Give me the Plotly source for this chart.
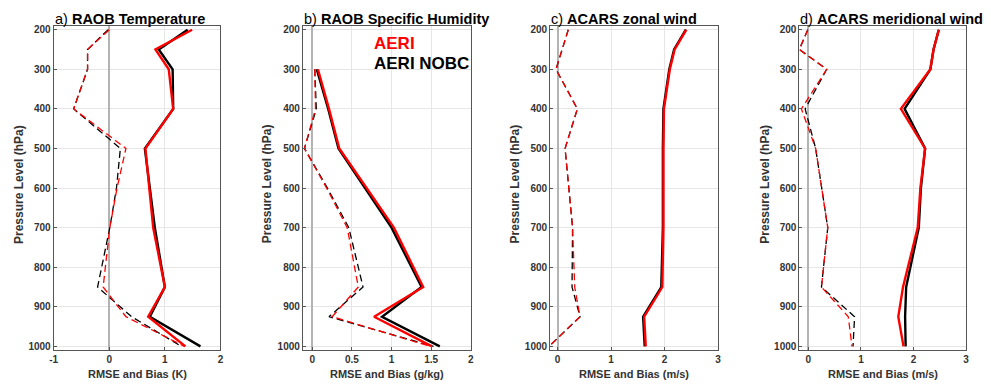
import plotly.graph_objects as go

levels = [200, 250, 300, 400, 500, 600, 700, 850, 925, 1000]

# a) RAOB Temperature (K)
temp_rmse_aeri = [1.49, 0.83, 1.07, 1.15, 0.65, 0.72, 0.79, 1.00, 0.70, 1.37]
temp_rmse_nobc = [1.41, 0.89, 1.14, 1.15, 0.64, 0.73, 0.82, 1.00, 0.73, 1.64]
temp_bias_aeri = [0.00, -0.39, -0.39, -0.64, 0.30, 0.14, 0.01, -0.11, 0.30, 1.35]
temp_bias_nobc = [-0.02, -0.39, -0.39, -0.64, 0.20, 0.13, 0.01, -0.21, 0.40, 1.30]

# b) RAOB Specific Humidity (g/kg)
q_rmse_aeri = [None, None, 0.07, 0.21, 0.34, 0.68, 1.03, 1.40, 0.78, 1.51]
q_rmse_nobc = [None, None, 0.055, 0.20, 0.33, 0.66, 1.00, 1.38, 0.88, 1.61]
q_bias_aeri = [None, None, 0.03, 0.04, -0.10, 0.18, 0.44, 0.58, 0.25, 1.49]
q_bias_nobc = [None, None, 0.03, 0.05, -0.10, 0.19, 0.46, 0.64, 0.21, 1.53]

# c) ACARS zonal wind (m/s)
u_rmse_aeri = [2.41, 2.19, 2.10, 1.99, 1.98, 1.98, 1.98, 1.96, 1.62, 1.65]
u_rmse_nobc = [2.40, 2.18, 2.09, 1.98, 1.97, 1.97, 1.97, 1.94, 1.60, 1.63]
u_bias_aeri = [0.20, 0.09, -0.03, 0.37, 0.14, 0.21, 0.28, 0.32, 0.42, -0.16]
u_bias_nobc = [0.20, 0.09, -0.03, 0.37, 0.14, 0.21, 0.28, 0.27, 0.42, -0.16]

# d) ACARS meridional wind (m/s)
v_rmse_aeri = [2.48, 2.38, 2.32, 1.76, 2.22, 2.13, 2.08, 1.80, 1.71, 1.81]
v_rmse_nobc = [2.48, 2.38, 2.32, 1.83, 2.22, 2.14, 2.10, 1.86, 1.84, 1.85]
v_bias_aeri = [-0.01, -0.17, 0.35, -0.13, 0.14, 0.25, 0.37, 0.25, 0.76, 0.83]
v_bias_nobc = [-0.01, -0.17, 0.35, -0.06, 0.14, 0.25, 0.37, 0.25, 0.88, 0.85]

titles = ["a) <b>RAOB Temperature</b>", "b) <b>RAOB Specific Humidity</b>",
          "c) <b>ACARS zonal wind</b>", "d) <b>ACARS meridional wind</b>"]
xtitles = ["RMSE and Bias (K)", "RMSE and Bias (g/kg)", "RMSE and Bias (m/s)", "RMSE and Bias (m/s)"]
xranges = [[-1, 2], [-0.12, 2], [-0.14, 3], [-0.17, 3]]
xticks = [[-1, 0, 1, 2], [0, 0.5, 1, 1.5, 2], [0, 1, 2, 3], [0, 1, 2, 3]]
xticktext = [["-1", "0", "1", "2"], ["0", "0.5", "1", "1.5", "2"], ["0", "1", "2", "3"], ["0", "1", "2", "3"]]
yticks = [200, 300, 400, 500, 600, 700, 800, 900, 1000]

panels = [
    (temp_rmse_nobc, temp_rmse_aeri, temp_bias_nobc, temp_bias_aeri),
    (q_rmse_nobc, q_rmse_aeri, q_bias_nobc, q_bias_aeri),
    (u_rmse_nobc, u_rmse_aeri, u_bias_nobc, u_bias_aeri),
    (v_rmse_nobc, v_rmse_aeri, v_bias_nobc, v_bias_aeri),
]

W, H = 991, 385
px_left = [50, 301, 550, 801]
px_right = [218, 470, 719, 969]
px_top, px_bot = 24, 352
ylab_x = [15, 265, 515, 767]

fig = go.Figure()
ydom = [1 - px_bot / H, 1 - px_top / H]
tickfont = dict(family="Liberation Sans", size=10, color="#333333", weight="bold")

for i, (rn, ra, bn, ba) in enumerate(panels):
    sfx = "" if i == 0 else str(i + 1)
    xa, ya = "x" + sfx, "y" + sfx
    for vals, col, dash, w in [(bn, "black", "7px,4px", 1.3), (ba, "red", "7px,4px", 1.3),
                               (rn, "black", "solid", 2.4), (ra, "red", "solid", 2.4)]:
        fig.add_trace(go.Scatter(x=vals, y=levels, mode="lines", xaxis=xa, yaxis=ya,
                                 line=dict(color=col, width=w, dash=dash),
                                 showlegend=False, cliponaxis=True, connectgaps=False))
    axcommon = dict(showline=True, mirror=True, linecolor="#555555", linewidth=1,
                    ticks="inside", ticklen=3, tickcolor="#555555",
                    showgrid=True, gridcolor="#e6e6e6", gridwidth=1, tickfont=tickfont)
    fig.layout["xaxis" + sfx] = dict(domain=[px_left[i] / W, px_right[i] / W], anchor=ya,
                                     range=xranges[i], tickvals=xticks[i], ticktext=xticktext[i],
                                     zeroline=True, zerolinecolor="#b3b3b3", zerolinewidth=1.5,
                                     **axcommon)
    fig.layout["yaxis" + sfx] = dict(domain=ydom, anchor=xa, range=[1010, 190],
                                     tickvals=yticks, zeroline=False, **axcommon)
    fig.add_annotation(text=titles[i], xref="paper", yref="paper",
                       x=(px_left[i] - 1) / W, y=1 - 17 / H, xanchor="left", yanchor="middle",
                       showarrow=False, font=dict(family="Liberation Sans", size=14.5, color="black"))
    fig.add_annotation(text="<b>" + xtitles[i] + "</b>", xref="paper", yref="paper",
                       x=(px_left[i] + px_right[i]) / 2 / W, y=1 - 376 / H,
                       xanchor="center", yanchor="middle", showarrow=False,
                       font=dict(family="Liberation Sans", size=11, color="#333333"))
    fig.add_annotation(text="<b>Pressure Level (hPa)</b>", xref="paper", yref="paper",
                       x=ylab_x[i] / W, y=1 - 184 / H, textangle=-90,
                       xanchor="center", yanchor="middle", showarrow=False,
                       font=dict(family="Liberation Sans", size=12, color="#333333"))

fig.add_annotation(text="<b>AERI</b>", xref="paper", yref="paper", x=371 / W, y=1 - 42 / H,
                   xanchor="left", yanchor="middle", showarrow=False,
                   font=dict(family="Liberation Sans", size=17, color="red"))
fig.add_annotation(text="<b>AERI NOBC</b>", xref="paper", yref="paper", x=371 / W, y=1 - 62 / H,
                   xanchor="left", yanchor="middle", showarrow=False,
                   font=dict(family="Liberation Sans", size=17, color="black"))

fig.update_layout(width=W, height=H, margin=dict(l=0, r=0, t=0, b=0),
                  paper_bgcolor="white", plot_bgcolor="white", showlegend=False)
fig.write_html("out.html")
